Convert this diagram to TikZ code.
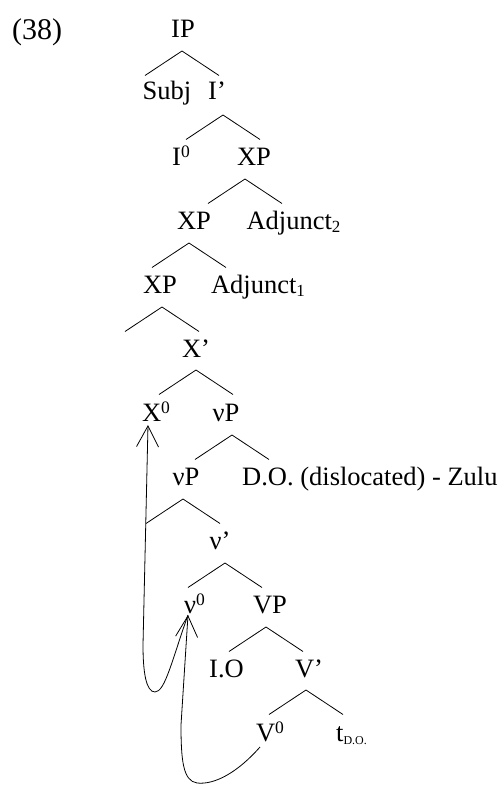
\documentclass[tikz,border=0pt]{standalone}
\usepackage{fontspec}
\setmainfont{Liberation Serif}
\usepackage{tikz}
\usetikzlibrary{arrows.meta,calc}
\newcommand\treefont{\fontsize{26.5}{30}\selectfont}
\newcommand\hsup[1]{\raisebox{8pt}{\fontsize{17.5}{18}\selectfont #1}}
\newcommand\lsub[2][17]{\raisebox{-3pt}{\fontsize{#1}{#1}\selectfont #2}}
\tikzset{
  lbl/.style    ={inner sep=0pt,anchor=base,font=\treefont},
  branch/.style ={line width=0.8pt},
  mv/.style     ={line width=0.8pt,-{Straight Barb[length=21pt,width=22pt]}},
}

\begin{document}
\begin{tikzpicture}[x=1pt,y=-1pt]
  \useasboundingbox (0,0) rectangle (502,785);
  \node[lbl,anchor=base west,font=\fontsize{30}{34}\selectfont] (ex) at (12,39) {(38)};
  % tree labels, row by row
  \node[lbl] (IP)   at (183,37)  {IP};
  \node[lbl] (Subj) at (167,99)  {Subj};
  \node[lbl] (Ibar) at (217,99)  {I’};
  \node[lbl] (I0)   at (181,165) {I\hsup{0}};
  \node[lbl] (XPa)  at (254,165) {XP};
  \node[lbl] (XPb)  at (194,229) {XP};
  \node[lbl] (Adj2) at (293.5,229) {Adjunct\lsub{2}};
  \node[lbl] (XPc)  at (160,293) {XP};
  \node[lbl] (Adj1) at (258,293) {Adjunct\lsub{1}};
  \node[lbl] (Xbar) at (196,357) {X’};
  \node[lbl] (X0)   at (156,421) {X\hsup{0}};
  \node[lbl] (vPa)  at (226,421) {νP};
  \node[lbl] (vPb)  at (186,485) {νP};
  \node[lbl,anchor=base west] (DO) at (242,485) {D.O. (dislocated) - Zulu};
  \node[lbl] (vbar) at (220,549) {ν’};
  \node[lbl] (v0)   at (194.5,613) {ν\hsup{0}};
  \node[lbl] (VP)   at (270,613) {VP};
  \node[lbl] (IO)   at (226.5,677) {I.O};
  \node[lbl] (Vbar) at (309,677) {V’};
  \node[lbl] (V0)   at (270,741) {V\hsup{0}};
  \node[lbl] (tDO)  at (351.5,741) {t\lsub[12]{D.O.}};
  % branches hang under each mother
  \foreach \p/\dx/\dy in {IP/-1/14,Ibar/6/16,XPa/-9/14,XPb/-5/14,XPc/2/14,Xbar/0/13,
                          vPa/6/14,vPb/-3/14,vbar/5/14,VP/-4/14,Vbar/-3/13}{
    \coordinate (\p-top) at ($(\p.base)+(\dx,\dy)$);
    \draw[branch] ($(\p-top)+(-37,24.5)$) -- (\p-top) -- ($(\p-top)+(37,24.5)$);
  }
  % head movement
  \coordinate (vfoot)  at ($(V0.base)+(-10,6)$);
  \coordinate (nufoot) at ($(v0.base)+(-6.5,2)$);
  \coordinate (xfoot)  at ($(X0.base)+(-8,4)$);
  \draw[mv] (vfoot) .. controls (238,772) and (215,785) .. (197,783)
            .. controls (183,781) and (181,760) .. (181,725) -- (nufoot);
  \draw[mv] (nufoot) .. controls (172,660) and (165,692) .. (155,692)
            .. controls (146,692) and (143,672) .. (143,645) -- (xfoot);
\end{tikzpicture}
\end{document}
